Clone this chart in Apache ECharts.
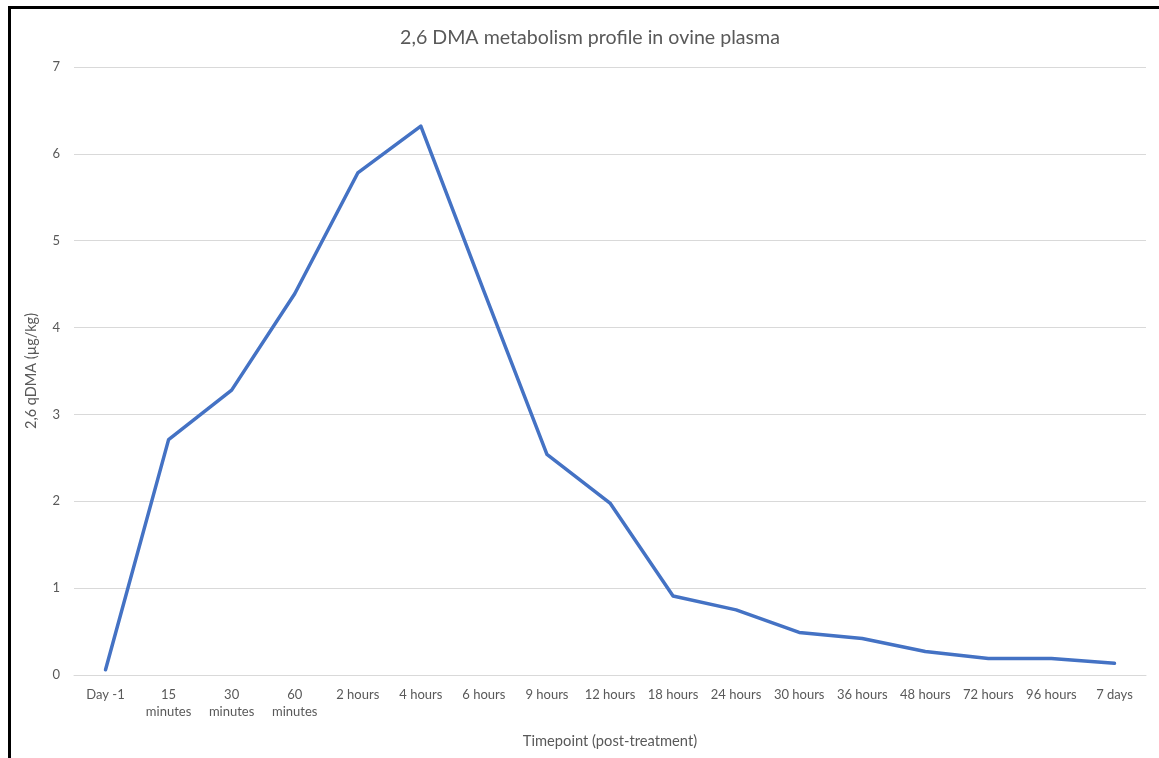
<!DOCTYPE html>
<html>
<head>
<meta charset="utf-8">
<script src="https://cdn.jsdelivr.net/npm/echarts@6/dist/echarts.min.js"></script>
<style>
  html, body { margin: 0; padding: 0; background: #ffffff; }
  #chart { width: 1159px; height: 758px; }
</style>
</head>
<body>
<div id="chart"></div>
<script>
// Sampling timepoints after treatment
const timepoints = [
  'Day -1', '15 minutes', '30 minutes', '60 minutes', '2 hours', '4 hours',
  '6 hours', '9 hours', '12 hours', '18 hours', '24 hours', '30 hours',
  '36 hours', '48 hours', '72 hours', '96 hours', '7 days'
];
// Mean 2,6 qDMA concentration in plasma (µg/kg)
const concentration = [
  0.06, 2.71, 3.28, 4.39, 5.78, 6.32,
  4.42, 2.54, 1.98, 0.91, 0.75, 0.49,
  0.42, 0.27, 0.19, 0.19, 0.135
];
const yTicks = { min: 0, max: 7, interval: 1 };

const chart = echarts.init(document.getElementById('chart'), null, { renderer: 'canvas' });
const textColor = '#595959';
const fontFamily = 'Lato, "Liberation Sans", sans-serif';

chart.setOption({
  backgroundColor: '#ffffff',
  animation: false,
  title: {
    text: '2,6 DMA metabolism profile in ovine plasma',
    left: 585,
    top: 23,
    textAlign: 'center',
    textStyle: { color: textColor, fontSize: 19.6, fontWeight: 'normal', fontFamily: fontFamily }
  },
  grid: { left: 74, right: 13, top: 67, bottom: 83, containLabel: false },
  xAxis: {
    type: 'category',
    data: timepoints,
    boundaryGap: true,
    name: 'Timepoint (post-treatment)',
    nameLocation: 'middle',
    nameGap: 59,
    nameTextStyle: { color: textColor, fontSize: 14.7, fontFamily: fontFamily },
    axisLine: { lineStyle: { color: '#d9d9d9', width: 1 } },
    axisTick: { show: false },
    axisLabel: {
      color: textColor,
      fontSize: 13,
      fontFamily: fontFamily,
      margin: 11,
      lineHeight: 17,
      interval: 0,
      formatter: v => v.replace(' minutes', '\nminutes')
    }
  },
  yAxis: {
    type: 'value',
    min: yTicks.min,
    max: yTicks.max,
    interval: yTicks.interval,
    name: '2,6 qDMA (µg/kg)',
    nameLocation: 'middle',
    nameRotate: 90,
    nameGap: 35,
    nameTextStyle: { color: textColor, fontSize: 14.5, fontFamily: fontFamily },
    axisLine: { show: false },
    axisTick: { show: false },
    axisLabel: { color: textColor, fontSize: 13, fontFamily: fontFamily, margin: 14 },
    splitLine: { lineStyle: { color: '#d9d9d9', width: 1 } }
  },
  series: [{
    type: 'line',
    data: concentration,
    showSymbol: false,
    symbol: 'none',
    lineStyle: { color: '#4472c4', width: 3.5, cap: 'round', join: 'round' },
    itemStyle: { color: '#4472c4' }
  }],
  graphic: [
    // frame edges along the left and top
    { type: 'line', shape: { x1: 9.5, y1: 7, x2: 9.5, y2: 758 }, style: { stroke: '#000000', lineWidth: 3 } },
    { type: 'line', shape: { x1: 8, y1: 7.5, x2: 1159, y2: 7.5 }, style: { stroke: '#000000', lineWidth: 3 } }
  ]
});
</script>
</body>
</html>
